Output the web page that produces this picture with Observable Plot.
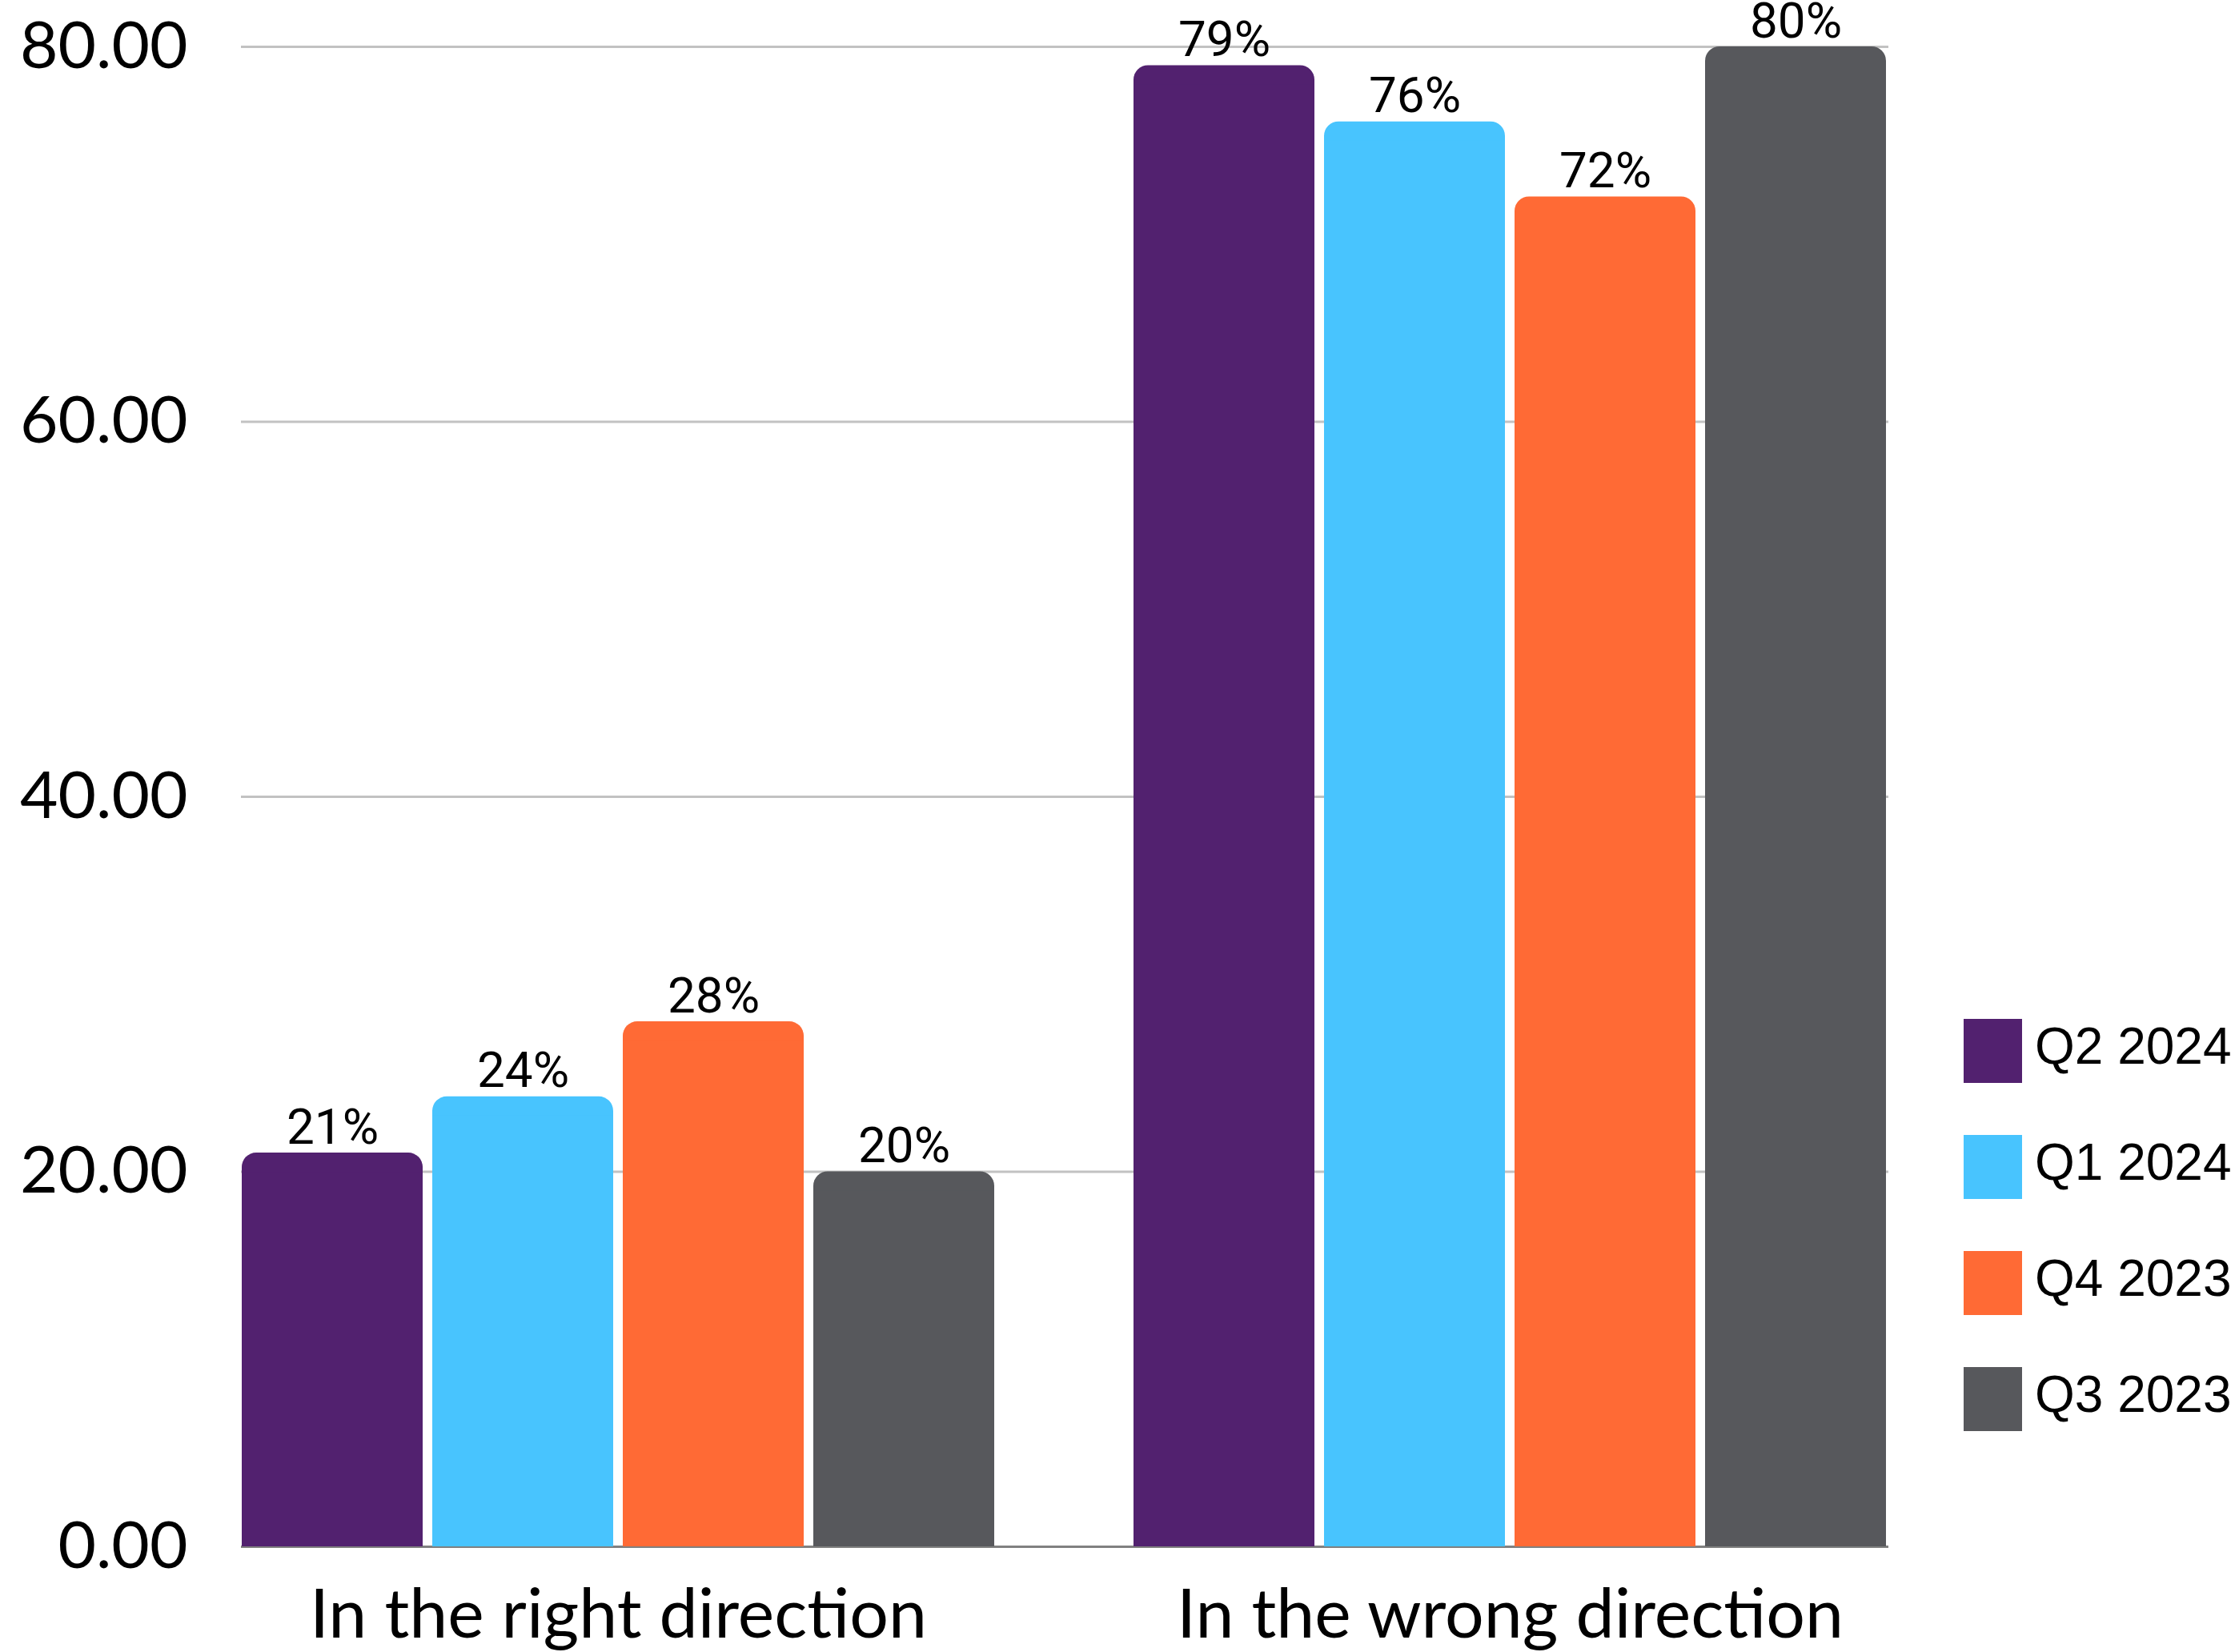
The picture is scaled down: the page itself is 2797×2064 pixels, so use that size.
<!DOCTYPE html>
<html>
<head>
<meta charset="utf-8">
<script src="https://cdn.jsdelivr.net/npm/d3@7"></script>
<script src="https://cdn.jsdelivr.net/npm/@observablehq/plot@0.6"></script>
<style>
  body { margin: 0; background: #fff; }
  #chart { position: relative; width: 2797px; height: 2064px; }
  #legend {
    position: absolute; left: 2453px; top: 1273px;
    font-family: "Liberation Sans", Arial, sans-serif; font-size: 64px; color: #000;
  }
  .item { display: flex; align-items: center; height: 80px; margin-bottom: 65px; }
  .sw { width: 73px; height: 80px; margin-right: 16px; flex: none; }
  .item span { position: relative; top: -6px; }
</style>
</head>
<body>
<div id="chart"></div>
<script>
// Survey groups, quarters and the share of respondents (%) per quarter
const groups = ["In the right direction", "In the wrong direction"];
const series = ["Q2 2024", "Q1 2024", "Q4 2023", "Q3 2023"];
const colors = ["#52216F", "#48C4FE", "#FF6A35", "#57585C"];
const rightDirection = [21, 24, 28, 20];
const wrongDirection = [79, 76, 72, 80];
const yTicks = [0, 20, 40, 60, 80];

const seriesValues = [rightDirection, wrongDirection];
const rows = groups.flatMap((g, i) =>
  series.map((s, j) => ({ group: g, series: s, value: seriesValues[i][j] }))
);

const W = 2797, H = 2064;
const margin = { left: 300, right: 439, top: 58, bottom: 132 };
const frameWidth = W - margin.left - margin.right;

const plot = Plot.plot({
  width: W,
  height: H,
  marginLeft: margin.left,
  marginRight: margin.right,
  marginTop: margin.top,
  marginBottom: margin.bottom,
  style: { background: "#fff", color: "#000" },
  fx: { domain: groups, paddingInner: 0.154, paddingOuter: 0, label: null, axis: null },
  x: { domain: series, paddingInner: 0.052, paddingOuter: 0, axis: null },
  y: { domain: [0, 80], axis: null },
  color: { domain: series, range: colors },
  marks: [
    // gridlines: ticks of the leftmost facet's y axis stretched across the full frame
    Plot.axisY({
      ticks: yTicks.filter(d => d > 0), tickSize: -frameWidth,
      stroke: "#C2C2C2", strokeWidth: 3, tickFormat: () => "", label: null
    }),
    Plot.axisY({
      ticks: [0], tickSize: -frameWidth,
      stroke: "#808080", strokeWidth: 3, tickFormat: () => "", label: null
    }),
    // bars: rounded version, then a square-cornered copy covering the lower corners
    Plot.barY(rows, { fx: "group", x: "series", y: "value", fill: "series", rx: 18 }),
    Plot.barY(rows, { fx: "group", x: "series", y: "value", fill: "series", insetTop: 24 }),
    Plot.text(rows, {
      fx: "group", x: "series", y: "value",
      text: d => d.value + "%",
      lineAnchor: "bottom", dy: -12,
      fontSize: 62, fontFamily: "Roboto, sans-serif", fill: "#000"
    }),
    Plot.axisY({
      ticks: yTicks, tickSize: 0, tickPadding: 67,
      tickFormat: d3.format(".2f"),
      fontSize: 82, fontFamily: "Lato, sans-serif", label: null
    }),
    Plot.axisFx({
      anchor: "bottom", tickSize: 0, tickPadding: 52,
      fontSize: 86, fontFamily: "Lato, sans-serif", label: null
    })
  ]
});

const chart = document.getElementById("chart");
chart.appendChild(plot);

// legend on the right, using the plot's own colour scale
const color = plot.scale("color");
const legend = d3.select(chart).append("div").attr("id", "legend");
const items = legend.selectAll(".item").data(series).join("div").attr("class", "item");
items.append("div").attr("class", "sw").style("background", d => color.apply(d));
items.append("span").text(d => d);
</script>
</body>
</html>
